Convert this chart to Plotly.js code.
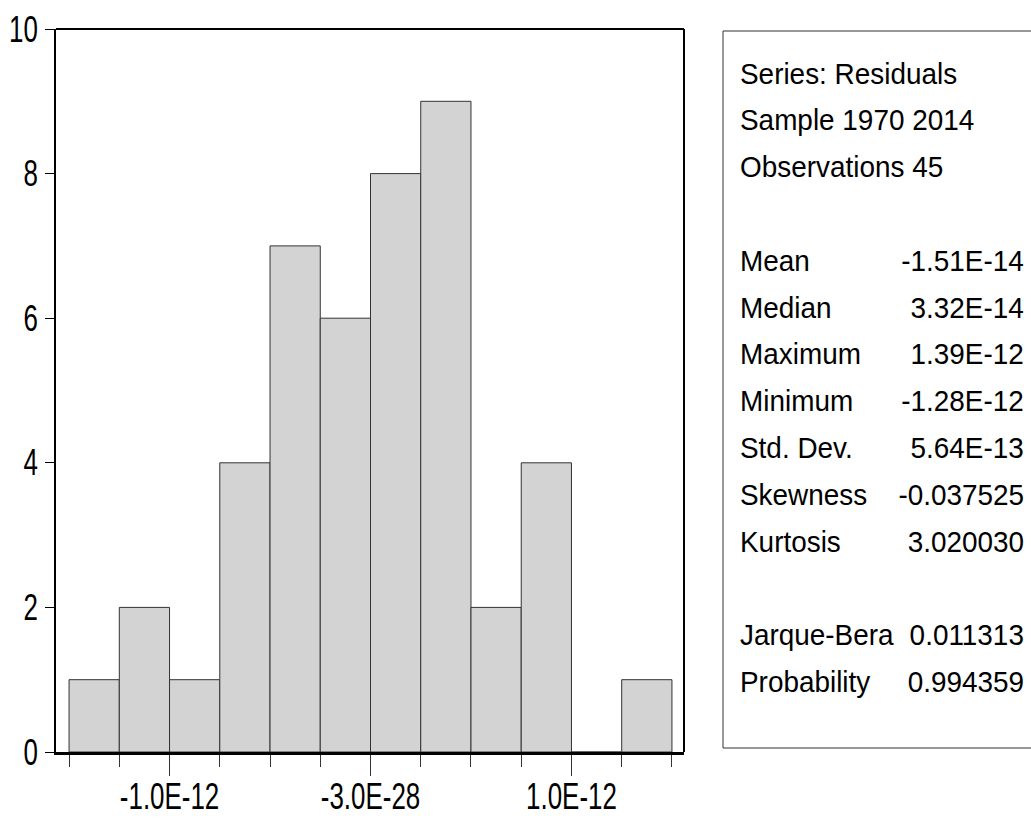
<!DOCTYPE html>
<html>
<head>
<meta charset="utf-8">
<script src="https://cdn.plot.ly/plotly-3.0.1.min.js"></script>
<style>html,body{margin:0;padding:0;background:#fff;}#chart{width:1031px;height:818px;}</style>
</head>
<body>
<div id="chart"></div>
<script>
// Histogram of residuals (bin centres, counts)
var binCenters = [-1.375e-12, -1.125e-12, -0.875e-12, -0.625e-12, -0.375e-12, -0.125e-12,
                  0.125e-12, 0.375e-12, 0.625e-12, 0.875e-12, 1.125e-12, 1.375e-12];
var binWidth = 0.25e-12;
var counts = [1, 2, 1, 4, 7, 6, 8, 9, 2, 4, 0, 1];
var xTickVals = [-1e-12, 0, 1e-12];
var xTickText = ["-1.0E-12", "-3.0E-28", "1.0E-12"];
var yTickVals = [0, 2, 4, 6, 8, 10];

var statHeader = ["Series: Residuals", "Sample 1970 2014", "Observations 45"];
var statLabels = ["Mean", "Median", "Maximum", "Minimum", "Std. Dev.", "Skewness", "Kurtosis"];
var statValues = ["-1.51E-14", "3.32E-14", "1.39E-12", "-1.28E-12", "5.64E-13", "-0.037525", "3.020030"];
var testLabels = ["Jarque-Bera", "Probability"];
var testValues = ["0.011313", "0.994359"];

var FONT = "'Liberation Sans', Arial, sans-serif";
var W = 1031, H = 818;
var M = {l: 56, r: 347, t: 29, b: 66};
var pw = W - M.l - M.r, ph = H - M.t - M.b;
function px(x) { return (x - M.l) / pw; }
function py(y) { return (H - M.b - y) / ph; }

var trace = {
  type: 'bar',
  x: binCenters,
  y: counts,
  width: binCenters.map(function(){ return binWidth; }),
  marker: {color: '#d3d3d3', line: {color: '#333333', width: 1}},
  hoverinfo: 'x+y'
};

var annotations = [];
var rowH = 46.8;
var y0 = 73;
var STAT_SIZE = 30;
function addRow(y, left, right) {
  annotations.push({xref: 'paper', yref: 'paper', x: px(738), y: py(y), xanchor: 'left', yanchor: 'middle',
    text: left, showarrow: false, font: {family: FONT, size: STAT_SIZE, color: '#000'}});
  if (right !== undefined) {
    annotations.push({xref: 'paper', yref: 'paper', x: px(1026), y: py(y), xanchor: 'right', yanchor: 'middle',
      text: right, showarrow: false, font: {family: FONT, size: STAT_SIZE, color: '#000'}});
  }
}
statHeader.forEach(function(t, i){ addRow(y0 + i * rowH, t); });
statLabels.forEach(function(t, i){ addRow(y0 + (i + 4) * rowH, t, statValues[i]); });
testLabels.forEach(function(t, i){ addRow(y0 + (i + 12) * rowH, t, testValues[i]); });

var TICK_SIZE = 36;
var layout = {
  width: W, height: H,
  margin: M,
  paper_bgcolor: '#fff', plot_bgcolor: '#fff',
  showlegend: false,
  bargap: 0,
  font: {family: FONT, size: TICK_SIZE, color: '#000'},
  xaxis: {
    range: [-1.565e-12, 1.56e-12],
    tickvals: xTickVals, ticktext: xTickText,
    ticks: 'outside', ticklen: 21, tickwidth: 1, tickcolor: '#333',
    ticklabelstandoff: 0,
    minor: {tick0: -1.5e-12, dtick: 0.25e-12, ticks: 'outside', ticklen: 12, tickwidth: 1, tickcolor: '#333', showgrid: false},
    showgrid: false, zeroline: false,
    showline: true, linecolor: '#000', linewidth: 3,
    tickfont: {family: FONT, size: TICK_SIZE, color: '#000'},
    fixedrange: true
  },
  yaxis: {
    range: [0, 10],
    tickvals: yTickVals,
    ticks: 'outside', ticklen: 9, tickwidth: 1, tickcolor: '#000',
    showgrid: false, zeroline: false,
    showline: true, linecolor: '#000', linewidth: 2,
    tickfont: {family: FONT, size: TICK_SIZE, color: '#000'},
    fixedrange: true
  },
  shapes: [
    {type: 'line', xref: 'paper', yref: 'paper', x0: 0, x1: 1, y0: 1, y1: 1, line: {color: '#000', width: 2}},
    {type: 'line', xref: 'paper', yref: 'paper', x0: 1, x1: 1, y0: 0, y1: 1, line: {color: '#000', width: 2}},
    {type: 'rect', xref: 'paper', yref: 'paper', x0: px(723), x1: px(1040), y0: py(748), y1: py(31),
     line: {color: '#333', width: 1}, fillcolor: 'rgba(0,0,0,0)'}
  ],
  annotations: annotations
};

// Horizontally condense rendered text (the reference uses a narrow face)
function condense(nodes, factor, mode, dy) {
  nodes.forEach(function(t) {
    var b0 = t.getBBox();
    var len = t.getComputedTextLength();
    t.setAttribute('textLength', (len * factor).toFixed(2));
    t.setAttribute('lengthAdjust', 'spacingAndGlyphs');
    var b1 = t.getBBox();
    var dx;
    if (mode === 'left') dx = b0.x - b1.x;
    else if (mode === 'right') dx = (b0.x + b0.width) - (b1.x + b1.width);
    else dx = (b0.x + b0.width / 2) - (b1.x + b1.width / 2);
    var x = parseFloat(t.getAttribute('x') || '0');
    t.setAttribute('x', (x + dx).toFixed(2));
    if (dy) {
      var y = parseFloat(t.getAttribute('y') || '0');
      t.setAttribute('y', (y + dy).toFixed(2));
    }
  });
}

Plotly.newPlot('chart', [trace], layout, {displayModeBar: false, staticPlot: true}).then(function(gd) {
  var q = function(s) { return Array.prototype.slice.call(gd.querySelectorAll(s)); };
  condense(q('.xtick text'), 0.72, 'center', -10);
  condense(q('.ytick text'), 0.72, 'right', 0);
  q('.annotation').forEach(function(a) {
    var t = a.querySelector('text');
    if (!t) return;
    var idx = parseInt(a.getAttribute('data-index'), 10);
    condense([t], 0.93, layout.annotations[idx].xanchor, 0);
  });
});
</script>
</body>
</html>
